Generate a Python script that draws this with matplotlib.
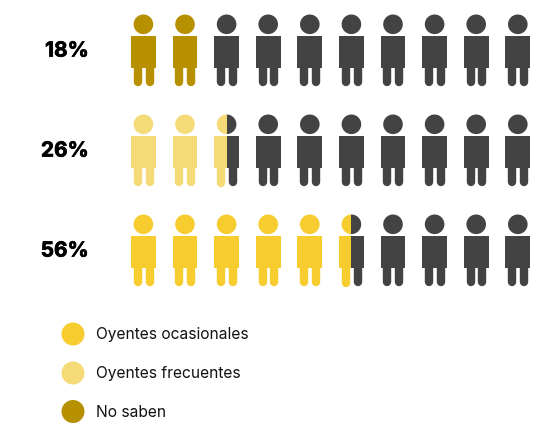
import matplotlib
matplotlib.use("Agg")
import matplotlib.pyplot as plt
import matplotlib.patheffects as pe
from matplotlib.patches import Circle, Rectangle

# Data
row_labels = ["18%", "26%", "56%"]
row_filled = [2, 2.5, 5.5]
row_colors = ["#B79000", "#F5DB78", "#F6CC2E"]
legend_labels = ["Oyentes ocasionales", "Oyentes frecuentes", "No saben"]
legend_colors = ["#F6CC2E", "#F5DB78", "#B79000"]
dark = "#434343"
n_people = 10

W, H = 543, 425
fig = plt.figure(figsize=(W / 100, H / 100), dpi=100)
ax = fig.add_axes([0, 0, 1, 1])
ax.set_xlim(0, W)
ax.set_ylim(H, 0)
ax.axis("off")

X0, DX = 143.4, 41.6
Y0, DY = 24.3, 100.0
PX = 0.72  # points per pixel
HALF = 14


def person(cx, top, color, clip=None, extra=0.0):
    items = [
        ax.add_patch(Circle((cx, top), 9.8, fc=color, ec="none")),
        ax.add_patch(Rectangle((cx - 12.4, top + 11.4), 24.8, 32, fc=color, ec="none")),
    ]
    for off in (-5.6, 6.2):
        line, = ax.plot([cx + off, cx + off], [top + 43, top + 57.6 + extra], color=color,
                        lw=8.4 * PX, solid_capstyle="round")
        items.append(line)
    if clip is not None:
        for it in items:
            it.set_clip_path(clip)


for r, (label, filled, color) in enumerate(zip(row_labels, row_filled, row_colors)):
    top = Y0 + r * DY
    ax.text(88.8, top + 32.3, label, ha="right", va="baseline", fontsize=15, fontweight="bold",
            family="Inter", color="black",
            path_effects=[pe.withStroke(linewidth=0.5, foreground="black")])
    for i in range(n_people):
        cx = X0 + i * DX
        share = filled - i
        if share >= 1:
            person(cx, top, color)
        elif share <= 0:
            person(cx, top, dark)
        else:
            split = cx - HALF + 2 * HALF * share
            left = Rectangle((cx - HALF, top - 12), split - cx + HALF, 80, transform=ax.transData)
            right = Rectangle((split, top - 12), cx + HALF - split, 80, transform=ax.transData)
            person(cx, top, dark, clip=right)
            person(cx, top, color, clip=left, extra=1.0)

LEG_Y = [334, 373, 411.5]
for y, label, color in zip(LEG_Y, legend_labels, legend_colors):
    ax.add_patch(Circle((73, y), 11.5, fc=color, ec="none"))
    ax.text(96.5, y + 5.2, label, ha="left", va="baseline", fontsize=11.2, family="Inter", color="#111111")

fig.savefig("out.png", dpi=100, facecolor="white")
